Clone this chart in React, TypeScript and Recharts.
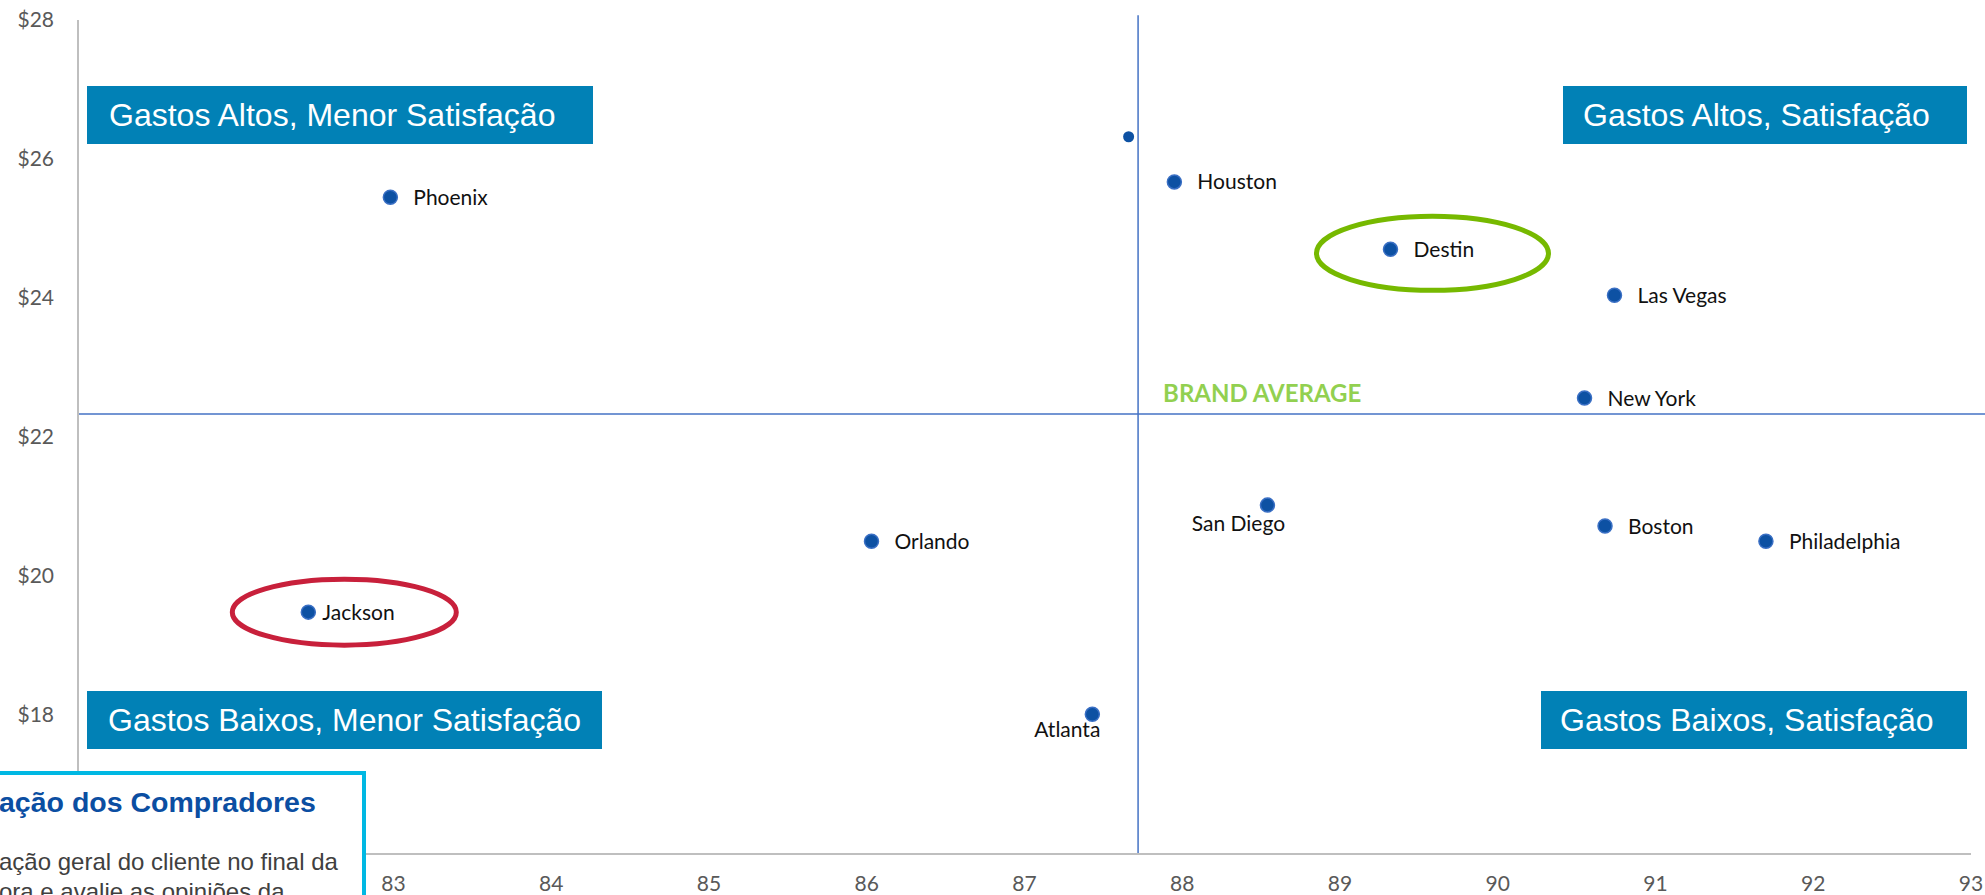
import React from "react"
import { ScatterChart, Scatter, XAxis, YAxis, ReferenceLine, ReferenceDot } from "recharts"

// cities: satisfaction score (x) vs. average spend in $ (y)
const cities = ["Phoenix", "Houston", "Destin", "Las Vegas", "New York", "San Diego", "Boston", "Philadelphia", "Orlando", "Jackson", "Atlanta"]
const satisfaction = [82.98, 87.95, 89.32, 90.74, 90.55, 88.54, 90.68, 91.7, 86.03, 82.46, 87.43]
const spend = [25.45, 25.67, 24.7, 24.04, 22.56, 21.02, 20.72, 20.5, 20.5, 19.48, 18.01]

// unlabelled marker near the average line
const extraSatisfaction = [87.66]
const extraSpend = [26.32]

const brandAvgSatisfaction = 87.72
const brandAvgSpend = 22.33

// the 81, 82 and $16 ticks sit under the note box in the original, so only these show
const xTicks = [83, 84, 85, 86, 87, 88, 89, 90, 91, 92, 93]
const yTicks = [18, 20, 22, 24, 26, 28]

const quadrantLabels = [
  "Gastos Altos, Menor Satisfação",
  "Gastos Altos, Satisfação",
  "Gastos Baixos, Menor Satisfação",
  "Gastos Baixos, Satisfação",
]

const LABEL_FONT = "Lato, 'Open Sans', sans-serif"
const DOT_FILL = "#0D51A3"
const DOT_STROKE = "#3A6FC4"
const LINE_BLUE = "#4472C4"
const AXIS_GREY = "#BFBFBF"
const TICK_GREY = "#595959"
const BOX_BLUE = "#0181B6"

// how each city label sits relative to its dot
const labelPlacement: Record<string, { dx: number; dy: number; anchor: "start" | "middle" | "end" }> = {
  "San Diego": { dx: -29, dy: 18, anchor: "middle" },
  Atlanta: { dx: 8, dy: 15, anchor: "end" },
  Jackson: { dx: 14, dy: 0, anchor: "start" },
}

const cityData = cities.map((name, i) => ({ name, x: satisfaction[i], y: spend[i] }))
const extraData = extraSatisfaction.map((x, i) => ({ x, y: extraSpend[i] }))

const CityDot = (props: any) => {
  const { cx, cy, payload } = props
  if (cx == null || cy == null) return null
  const p = labelPlacement[payload.name] || { dx: 23, dy: 0, anchor: "start" }
  return (
    <g>
      <circle cx={cx} cy={cy} r={7} fill={DOT_FILL} stroke={DOT_STROKE} strokeWidth={1.5} />
      <text
        x={cx + p.dx}
        y={cy + p.dy}
        dy="0.36em"
        textAnchor={p.anchor}
        fontFamily={LABEL_FONT}
        fontSize={21}
        fill="#111"
      >
        {payload.name}
      </text>
    </g>
  )
}

const SmallDot = (props: any) => {
  const { cx, cy } = props
  if (cx == null || cy == null) return null
  return <circle cx={cx} cy={cy} r={5.5} fill={DOT_FILL} />
}

const ringShape = (color: string, dx: number, dy: number, rx: number, ry: number) => (props: any) => {
  const { cx, cy } = props
  if (cx == null || cy == null) return null
  return <ellipse cx={cx + dx} cy={cy + dy} rx={rx} ry={ry} fill="none" stroke={color} strokeWidth={5} />
}

const brandLabel = (props: any) => {
  const { cx, cy } = props
  if (cx == null || cy == null) return null
  return (
    <text x={cx + 25} y={cy - 21} dy="0.36em" fontFamily={LABEL_FONT} fontWeight={700} fontSize={24} fill="#92D050">
      BRAND AVERAGE
    </text>
  )
}

const boxStyle = (left: number, top: number, width: number, padLeft: number): React.CSSProperties => ({
  position: "absolute",
  left,
  top,
  width,
  height: 58,
  background: BOX_BLUE,
  color: "#fff",
  fontFamily: "'Liberation Sans', Arial, sans-serif",
  fontSize: 32,
  display: "flex",
  alignItems: "center",
  paddingLeft: padLeft,
  boxSizing: "border-box",
  whiteSpace: "nowrap",
})

const App = () => {
  const destinIdx = cities.indexOf("Destin")
  const jacksonIdx = cities.indexOf("Jackson")

  return (
    <div style={{ position: "fixed", left: 0, top: 0, width: 1985, height: 895, overflow: "hidden", background: "#fff" }}>
      <ScatterChart width={1985} height={895} margin={{ top: 20, right: 14, bottom: 0, left: 0 }}>
        <XAxis
          type="number"
          dataKey="x"
          domain={[81, 93]}
          ticks={xTicks}
          allowDataOverflow
          height={41}
          tickSize={0}
          tickMargin={22}
          tickLine={false}
          axisLine={{ stroke: AXIS_GREY, strokeWidth: 2 }}
          tick={{ fill: TICK_GREY, fontSize: 21, fontFamily: LABEL_FONT }}
        />
        <YAxis
          type="number"
          dataKey="y"
          domain={[16, 28]}
          ticks={yTicks}
          allowDataOverflow
          width={78}
          tickSize={0}
          tickMargin={24}
          tickLine={false}
          axisLine={{ stroke: AXIS_GREY, strokeWidth: 2 }}
          tick={{ fill: TICK_GREY, fontSize: 21, fontFamily: LABEL_FONT }}
          tickFormatter={(v: number) => `$${v}`}
        />
        <ReferenceLine
          segment={[
            { x: brandAvgSatisfaction, y: 16 },
            { x: brandAvgSatisfaction, y: 28.07 },
          ]}
          stroke={LINE_BLUE}
          strokeWidth={1.5}
          ifOverflow="visible"
        />
        <ReferenceLine
          segment={[
            { x: 81, y: brandAvgSpend },
            { x: 93.1, y: brandAvgSpend },
          ]}
          stroke={LINE_BLUE}
          strokeWidth={1.5}
          ifOverflow="visible"
        />
        <ReferenceDot x={brandAvgSatisfaction} y={brandAvgSpend} r={0} shape={brandLabel} ifOverflow="visible" />
        <ReferenceDot
          x={satisfaction[destinIdx]}
          y={spend[destinIdx]}
          r={0}
          shape={ringShape("#76B900", 42, 4, 116, 37)}
          ifOverflow="visible"
        />
        <ReferenceDot
          x={satisfaction[jacksonIdx]}
          y={spend[jacksonIdx]}
          r={0}
          shape={ringShape("#C8203B", 36, 0, 112, 33)}
          ifOverflow="visible"
        />
        <Scatter data={extraData} shape={SmallDot} isAnimationActive={false} />
        <Scatter data={cityData} shape={CityDot} isAnimationActive={false} />
      </ScatterChart>

      <div style={boxStyle(87, 86, 506, 22)}>{quadrantLabels[0]}</div>
      <div style={boxStyle(1563, 86, 404, 20)}>{quadrantLabels[1]}</div>
      <div style={boxStyle(87, 691, 515, 21)}>{quadrantLabels[2]}</div>
      <div style={boxStyle(1541, 691, 426, 19)}>{quadrantLabels[3]}</div>

      <div
        style={{
          position: "absolute",
          left: -60,
          top: 771,
          width: 426,
          height: 200,
          border: "4px solid #00B8E3",
          background: "#fff",
          boxSizing: "border-box",
        }}
      />
      <div
        style={{
          position: "absolute",
          left: -1,
          top: 788,
          fontFamily: "'Liberation Sans', Arial, sans-serif",
          fontWeight: 700,
          fontSize: 28.5,
          lineHeight: "28px",
          color: "#0B4EA2",
          whiteSpace: "nowrap",
        }}
      >
        ação dos Compradores
      </div>
      <div
        style={{
          position: "absolute",
          left: -1,
          top: 847,
          fontFamily: "'Liberation Sans', Arial, sans-serif",
          fontSize: 24,
          lineHeight: "30px",
          color: "#404040",
          whiteSpace: "nowrap",
        }}
      >
        <div>ação geral do cliente no final da</div>
        <div>ora e avalie as opiniões da</div>
      </div>
    </div>
  )
}

export default App
